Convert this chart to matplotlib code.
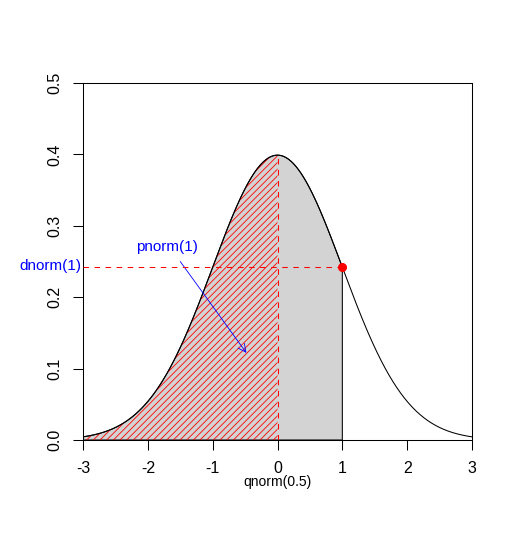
import numpy as np
import matplotlib
matplotlib.use("Agg")
import matplotlib.pyplot as plt

plt.rcParams['font.family'] = ['Liberation Sans', 'DejaVu Sans']
plt.rcParams['hatch.linewidth'] = 0.6

# data
x_lim = (-3, 3)
y_lim = (0, 0.5)
x_ticks = [-3, -2, -1, 0, 1, 2, 3]
y_ticks = [0.0, 0.1, 0.2, 0.3, 0.4, 0.5]
y_tick_labels = ["0.0", "0.1", "0.2", "0.3", "0.4", "0.5"]
q_point = 1.0           # qnorm for shaded region upper bound
median_q = 0.0          # qnorm(0.5)
arrow_from = (-1.5, 0.25)
arrow_to = (-0.48, 0.122)
pnorm_label_pos = (-1.70, 0.27)

def dnorm(v):
    return np.exp(-v ** 2 / 2) / np.sqrt(2 * np.pi)

xs = np.linspace(x_lim[0], x_lim[1], 601)
ys = dnorm(xs)

fig = plt.figure(figsize=(5.15, 5.44), dpi=100)
ax = fig.add_axes([83 / 515, 1 - 440 / 544, (472 - 83) / 515, (440 - 83) / 544])

lw = 0.75
# gray polygon from -3 to 1
xp = np.linspace(x_lim[0], q_point, 400)
yp = dnorm(xp)
px = np.concatenate([xp, [q_point, x_lim[0]]])
py = np.concatenate([yp, [0, 0]])
ax.fill(px, py, facecolor='lightgray', edgecolor='black', linewidth=lw, zorder=1)

# hatched region -3..0
xh = np.linspace(x_lim[0], median_q, 300)
ax.fill_between(xh, 0, dnorm(xh), facecolor='none', edgecolor='red', hatch='/////', linewidth=0, zorder=2)

# density curve
ax.plot(xs, ys, color='black', linewidth=lw, zorder=3)

dash = (0, (5.3, 5.3))
ax.plot([median_q, median_q], [0, dnorm(median_q)], color='red', linewidth=lw, linestyle=dash, zorder=4)
ax.plot([x_lim[0], q_point], [dnorm(q_point), dnorm(q_point)], color='red', linewidth=lw, linestyle=dash, zorder=4)
ax.plot([q_point], [dnorm(q_point)], 'o', color='red', markersize=5.5, zorder=5)

ax.text(x_lim[0] - 0.02, dnorm(q_point) + 0.002, "dnorm(1)", color='blue', fontsize=11,
        ha='right', va='center', clip_on=False)
ax.text(pnorm_label_pos[0], pnorm_label_pos[1], "pnorm(1)", color='blue', fontsize=11,
        ha='center', va='center')
ax.annotate("", xy=arrow_to, xytext=arrow_from,
            arrowprops=dict(arrowstyle='->', color='blue', lw=0.6,
                            mutation_scale=14, shrinkA=0, shrinkB=0))
ax.text(median_q, -0.059, "qnorm(0.5)", fontsize=10, ha='center', va='center',
        transform=ax.transData, clip_on=False)

ax.set_xlim(*x_lim)
ax.set_ylim(*y_lim)
ax.set_xticks(x_ticks)
ax.set_xticklabels([str(t) for t in x_ticks])
ax.set_yticks(y_ticks)
ax.set_yticklabels(y_tick_labels, rotation=90, va='center')
ax.tick_params(axis='both', direction='out', length=7, width=lw, labelsize=11.5, colors='black')
ax.tick_params(axis='x', pad=8)
ax.tick_params(axis='y', pad=8)
for s in ax.spines.values():
    s.set_linewidth(lw)
    s.set_color('black')

fig.savefig("out.png", dpi=100)
